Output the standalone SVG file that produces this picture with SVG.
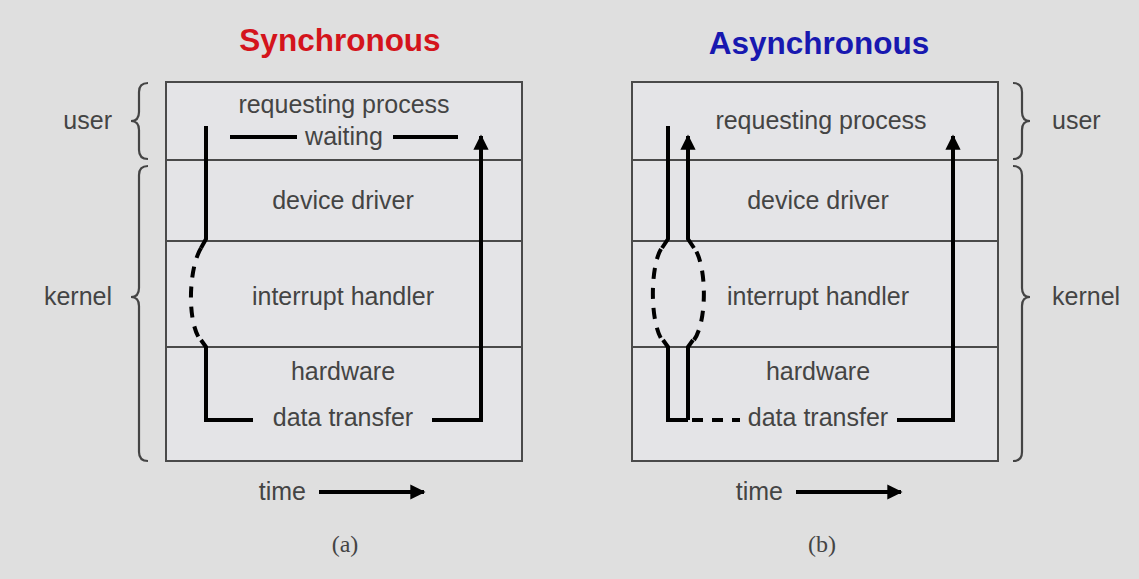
<svg xmlns="http://www.w3.org/2000/svg" width="1139" height="579" viewBox="0 0 1139 579">
<style>
.lbl{font-family:"Liberation Sans",Arial,sans-serif;font-size:25px;fill:#444;text-anchor:middle}
.side{font-family:"Liberation Sans",Arial,sans-serif;font-size:25px;fill:#444}
.title{font-family:"Liberation Sans",Arial,sans-serif;font-size:31.5px;font-weight:bold;text-anchor:middle}
.cap{font-family:"Liberation Serif","Times New Roman",serif;font-size:24px;fill:#444;text-anchor:middle}
.box{fill:#e4e4e7;stroke:#4a4a4a;stroke-width:2}
.row{stroke:#4a4a4a;stroke-width:2}
.flow{fill:none;stroke:#000;stroke-width:4;stroke-linejoin:miter}
.dash{fill:none;stroke:#000;stroke-width:4;stroke-dasharray:11 9}
.brace{fill:none;stroke:#444;stroke-width:2.2}
</style>
<defs>
<marker id="ah" viewBox="0 0 10 10" refX="9" refY="5" markerWidth="4.2" markerHeight="3.8" orient="auto" markerUnits="strokeWidth">
<path d="M0,0 L10,5 L0,10 Z" fill="#000"/>
</marker>
</defs>
<rect width="1139" height="579" fill="#dfdfdf"/>

<text class="title" x="340" y="51" fill="#d4141c">Synchronous</text>
<text class="title" x="819" y="54" fill="#1818b0">Asynchronous</text>

<g id="sync">
<rect class="box" x="166" y="82" width="356" height="379"/>
<line class="row" x1="166" y1="160" x2="522" y2="160"/>
<line class="row" x1="166" y1="241" x2="522" y2="241"/>
<line class="row" x1="166" y1="347" x2="522" y2="347"/>
<text class="lbl" x="344" y="113">requesting process</text>
<text class="lbl" x="344" y="145">waiting</text>
<text class="lbl" x="343" y="209">device driver</text>
<text class="lbl" x="343" y="305">interrupt handler</text>
<text class="lbl" x="343" y="380">hardware</text>
<text class="lbl" x="343" y="426">data transfer</text>
</g>

<g id="async">
<rect class="box" x="632" y="82" width="366" height="379"/>
<line class="row" x1="632" y1="160" x2="998" y2="160"/>
<line class="row" x1="632" y1="241" x2="998" y2="241"/>
<line class="row" x1="632" y1="347" x2="998" y2="347"/>
<text class="lbl" x="821" y="129">requesting process</text>
<text class="lbl" x="818" y="209">device driver</text>
<text class="lbl" x="818" y="305">interrupt handler</text>
<text class="lbl" x="818" y="380">hardware</text>
<text class="lbl" x="818" y="426">data transfer</text>
</g>

<g id="labels">
<text class="side" x="112" y="129" text-anchor="end">user</text>
<text class="side" x="112" y="305" text-anchor="end">kernel</text>
<text class="side" x="1052" y="129">user</text>
<text class="side" x="1052" y="305">kernel</text>
<path class="brace" d="M148,83 Q139,83 139,92 V112 Q139,121 131,121 Q139,121 139,130 V150 Q139,159 148,159"/>
<path class="brace" d="M148,166 Q139,166 139,175 V288 Q139,297 131,297 Q139,297 139,306 V452 Q139,461 148,461"/>
<path class="brace" d="M1013,83 Q1022,83 1022,92 V112 Q1022,121 1030,121 Q1022,121 1022,130 V150 Q1022,159 1013,159"/>
<path class="brace" d="M1013,166 Q1022,166 1022,175 V288 Q1022,297 1030,297 Q1022,297 1022,306 V452 Q1022,461 1013,461"/>
<text class="side" x="306" y="500" text-anchor="end">time</text>
<text class="side" x="783" y="500" text-anchor="end">time</text>
<text class="cap" x="345" y="552">(a)</text>
<text class="cap" x="822" y="552">(b)</text>
</g>

<g id="connectors">
<line class="flow" x1="230" y1="137" x2="297" y2="137"/>
<line class="flow" x1="393" y1="137" x2="458" y2="137"/>
<path class="flow" d="M206,126 V239 L201,248"/>
<path class="dash" d="M201,248 C189,268 187,318 199,338"/>
<path class="flow" d="M201,340 L206,347 V420 H253"/>
<path class="flow" d="M432,420 H481 V136" marker-end="url(#ah)"/>

<path class="flow" d="M668,126 V239 L662,248"/>
<path class="dash" d="M661,249 C650,268 650,322 662,340"/>
<path class="flow" d="M663,340 L668,347 V420 H688"/>
<path class="flow" d="M688,420 V347 L693,340"/>
<path class="dash" d="M694,340 C707,322 707,268 695,249"/>
<path class="flow" d="M694,248 L688,239 V136" marker-end="url(#ah)"/>
<path class="dash" d="M692,420 H740"/>
<path class="flow" d="M897,420 H953 V136" marker-end="url(#ah)"/>

<path class="flow" d="M319,492 H424" marker-end="url(#ah)"/>
<path class="flow" d="M796,492 H901" marker-end="url(#ah)"/>
</g>
</svg>
